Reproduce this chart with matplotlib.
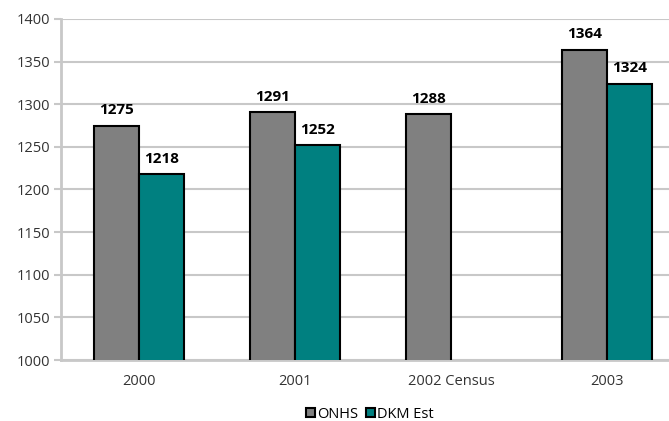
import numpy as np
import matplotlib
matplotlib.use("Agg")
import matplotlib.pyplot as plt

plt.rcParams["font.family"] = ["Open Sans", "DejaVu Sans"]

categories = ["2000", "2001", "2002 Census", "2003"]
onhs = [1275, 1291, 1288, 1364]
dkm = [1218, 1252, None, 1324]

GRAY, TEAL, GRID = "#808080", "#008080", "#c8c8c8"

fig = plt.figure(figsize=(6.69, 4.21), dpi=100)
ax = fig.add_axes([61 / 669, 1 - 360 / 421, 624 / 669, 341 / 421])

x = np.arange(len(categories))
w = 0.29
ax.bar(x - w / 2, onhs, w, color=GRAY, edgecolor="black", lw=1.5, label="ONHS", zorder=3)
xd = [xi for xi, v in zip(x, dkm) if v is not None]
vd = [v for v in dkm if v is not None]
ax.bar(np.array(xd) + w / 2, vd, w, color=TEAL, edgecolor="black", lw=1.5, label="DKM Est", zorder=3)

for xi, v in zip(x, onhs):
    ax.annotate(f"{v}", (xi - w / 2, v), textcoords="offset points", xytext=(0, 6),
                ha="center", va="bottom", fontsize=11, fontweight="bold")
for xi, v in zip(xd, vd):
    ax.annotate(f"{v}", (xi + w / 2, v), textcoords="offset points", xytext=(0, 6),
                ha="center", va="bottom", fontsize=11, fontweight="bold")

ax.set_ylim(1000, 1400)
ax.set_yticks(range(1000, 1401, 50))
ax.set_xlim(-0.5, len(categories) - 0.5)
ax.set_xticks(x)
ax.set_xticklabels(categories)
ax.yaxis.grid(True, color=GRID, lw=1.5, zorder=0)
ax.set_axisbelow(True)
for s in ["top", "right"]:
    ax.spines[s].set_visible(False)
for s in ["left", "bottom"]:
    ax.spines[s].set_color(GRID)
    ax.spines[s].set_linewidth(2)
ax.tick_params(axis="y", length=5, width=1.5, color=GRID, labelsize=10.5, labelcolor="#333333", pad=3)
ax.tick_params(axis="x", length=0, labelsize=10.5, labelcolor="#333333", pad=10)

fig.legend(loc="center", bbox_to_anchor=(370 / 669, 1 - 414 / 421), ncol=2, frameon=False,
           fontsize=10.5, handlelength=0.6, handleheight=0.6, handletextpad=0.2, columnspacing=0.5)

fig.savefig("out.png", dpi=100)
